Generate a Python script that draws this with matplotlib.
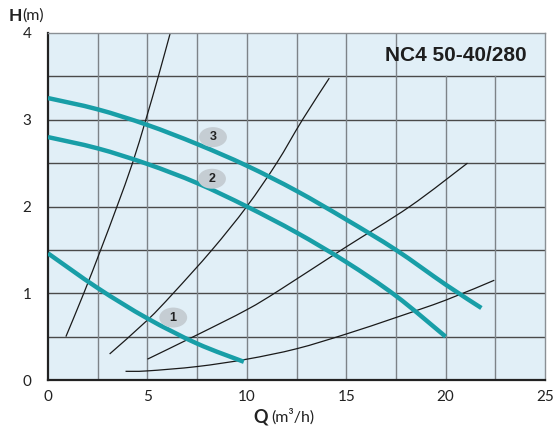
import matplotlib
matplotlib.use("Agg")
import matplotlib.pyplot as plt
from matplotlib.patches import Ellipse, PathPatch
from matplotlib.path import Path
import numpy as np

# pump curves (Q m3/h, H m)
q3 = [0, 2.5, 5, 7.5, 10, 12.5, 15, 17.5, 20, 21.8]
h3 = [3.25, 3.12, 2.94, 2.72, 2.47, 2.18, 1.85, 1.5, 1.1, 0.83]
q2 = [0, 2.5, 5, 7.5, 10, 12.5, 15, 17.5, 20]
h2 = [2.8, 2.67, 2.49, 2.27, 2.0, 1.7, 1.36, 0.97, 0.5]
q1 = [0, 2.5, 5, 7.5, 9.85]
h1 = [1.46, 1.06, 0.71, 0.42, 0.21]

# system curves
qa = [0.9, 1.8, 2.65, 3.47, 4.25, 4.92, 5.55, 6.15]
ha = [0.5, 1.0, 1.5, 2.0, 2.5, 3.0, 3.5, 4.0]
qb = [3.1, 5, 6.3, 8.25, 10, 11.5, 12.8, 14.15]
hb = [0.3, 0.69, 1.0, 1.5, 2.0, 2.5, 3.0, 3.48]
qc = [5, 7.5, 10, 11.67, 14.9, 18.2, 21.1]
hc = [0.24, 0.52, 0.81, 1.04, 1.52, 2.0, 2.5]
qd = [3.9, 5, 7.5, 10, 12.5, 15, 17.5, 20, 22.45]
hd = [0.1, 0.105, 0.155, 0.24, 0.36, 0.53, 0.72, 0.92, 1.15]

labels = ["1", "2", "3"]
label_q = [6.3, 8.25, 8.3]
label_h = [0.72, 2.32, 2.8]

title = "NC4 50-40/280"
xticks = [0, 5, 10, 15, 20, 25]
yticks = [0, 1, 2, 3, 4]

teal = "#189ea7"
bg = "#e1eff7"


def smooth_patch(xs, ys, **kw):
    P = np.column_stack([xs, ys]).astype(float)
    n = len(P)
    verts = [tuple(P[0])]
    codes = [Path.MOVETO]
    for i in range(n - 1):
        p0 = P[i - 1] if i > 0 else P[i]
        p1 = P[i]
        p2 = P[i + 1]
        p3 = P[i + 2] if i + 2 < n else P[i + 1]
        c1 = p1 + (p2 - p0) / 6.0
        c2 = p2 - (p3 - p1) / 6.0
        verts += [tuple(c1), tuple(c2), tuple(p2)]
        codes += [Path.CURVE4] * 3
    return PathPatch(Path(verts, codes), fill=False, **kw)


fig = plt.figure(figsize=(5.55, 4.29), dpi=100)
ax = fig.add_axes([48/555, 1 - 380/429, 497/555, 347/429])
ax.set_xlim(0, 25)
ax.set_ylim(0, 4)
ax.set_facecolor(bg)

# grid
for yv in np.arange(0.5, 4.0, 0.5):
    ax.axhline(yv, color="#4a4a4a", lw=1.0, zorder=1)
for xv in np.arange(2.5, 25, 2.5):
    top = 4.0 if xv <= 17.5 else 3.5
    ax.plot([xv, xv], [0, top], color="#7d8388", lw=1.0, zorder=1)

for q, h in [(qa, ha), (qb, hb), (qc, hc), (qd, hd)]:
    ax.add_patch(smooth_patch(q, h, edgecolor="#1a1a1a", lw=0.9, zorder=2))
for q, h in [(q3, h3), (q2, h2), (q1, h1)]:
    ax.add_patch(smooth_patch(q, h, edgecolor=teal, lw=3.2, zorder=3, capstyle="butt"))

for lab, x, y in zip(labels, label_q, label_h):
    ax.add_patch(Ellipse((x, y), 1.4, 0.23, facecolor="#c5cdd3", edgecolor="none", zorder=4))
    ax.text(x, y, lab, ha="center", va="center", fontsize=9, fontweight="bold",
            family="Liberation Sans", color="#222222", zorder=5)

ax.text(24.1, 3.74, title, ha="right", va="center", fontsize=15, fontweight="bold",
        family="Liberation Sans", color="#1e1e1e", zorder=5)

for s in ["top", "right"]:
    ax.spines[s].set_color("#8a8f94")
    ax.spines[s].set_linewidth(1.0)
for s in ["left", "bottom"]:
    ax.spines[s].set_color("#222222")
    ax.spines[s].set_linewidth(1.6)

ax.set_xticks(xticks)
ax.set_yticks(yticks)
ax.tick_params(length=0, labelsize=11, colors="#222222", pad=7)
for t in ax.get_xticklabels() + ax.get_yticklabels():
    t.set_family("Lato")
ax.tick_params(axis="y", pad=12)

fig.text(9/555, 1 - 16/429, "H", ha="left", va="center", fontsize=12.5, fontweight="bold", family="Lato", color="#222222")
fig.text(22/555, 1 - 16/429, "(m)", ha="left", va="center", fontsize=11.5, family="Lato", color="#222222")
fig.text(268/555, 1 - 417/429, "Q", ha="right", va="center", fontsize=13, fontweight="bold", family="Lato", color="#222222")
fig.text(271/555, 1 - 417/429, "(m³/h)", ha="left", va="center", fontsize=11.5, family="Lato", color="#222222")

fig.savefig("out.png", dpi=100)
